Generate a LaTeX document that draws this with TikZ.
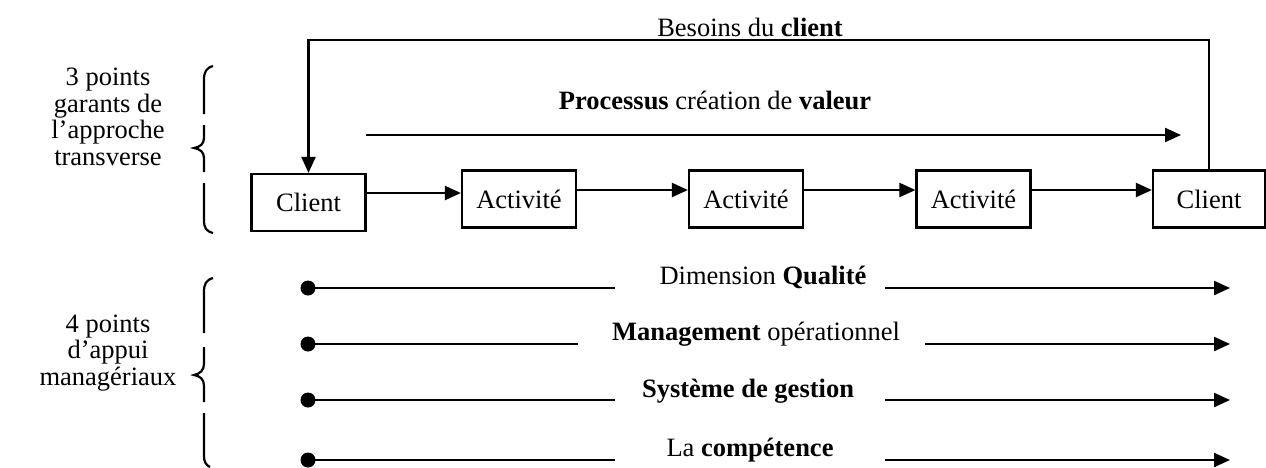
\documentclass[tikz,border=0pt]{standalone}
\usepackage{fontspec}
\setmainfont{Liberation Serif}
\usetikzlibrary{arrows.meta}
\begin{document}
\begin{tikzpicture}[x=1pt,y=-1pt,
  every node/.style={font=\fontsize{26.5}{26.5}\selectfont, inner sep=0pt},
  ln/.style={line width=2.2pt},
  arr/.style={ln,-{Triangle[length=16pt,width=14pt]}},
  boxn/.style={draw,line width=2.2pt,minimum width=114pt,minimum height=57pt},
  lbl/.style={align=center}]
\useasboundingbox (0,0) rectangle (1266,467);
% left labels
\node[lbl] (g1) at (108,117) {3 points\\garants de\\l'approche\\transverse};
\node[lbl] (g2) at (108,353) {4 points\\d'appui\\managériaux};
% braces
\draw[ln] (213,66) .. controls (206,68) and (204,72) .. (204,80) -- (204,114);
\draw[ln] (204,125) -- (204,138) .. controls (204,144) and (200,147) .. (194,148)
  .. controls (200,149) and (204,152) .. (204,158) -- (204,172);
\draw[ln] (204,183) -- (204,220) .. controls (204,228) and (206,231) .. (213,233);
\draw[ln] (213,278) .. controls (206,280) and (204,284) .. (204,292) -- (204,333);
\draw[ln] (204,347) -- (204,364) .. controls (204,370) and (200,374) .. (194,375)
  .. controls (200,376) and (204,379) .. (204,386) -- (204,402);
\draw[ln] (204,413) -- (204,456) .. controls (204,462) and (206,465) .. (210,467);
% boxes
\node[boxn] (c1) at (308.5,202.5) {Client};
\node[boxn] (a1) at (519,199) {Activité};
\node[boxn] (a2) at (746,199) {Activité};
\node[boxn] (a3) at (973.5,199) {Activité};
\node[boxn,minimum width=112pt] (c2) at (1209,199) {Client};
\draw[arr] ([yshift=9.5pt]c1.east) -- ([yshift=6pt]a1.west);
\draw[arr] ([yshift=9pt]a1.east) -- ([yshift=9pt]a2.west);
\draw[arr] ([yshift=9pt]a2.east) -- ([yshift=9pt]a3.west);
\draw[arr] ([yshift=9pt]a3.east) -- ([yshift=9pt]c2.west);
% feedback
\node (bes) at (750,27) {Besoins du \textbf{client}};
\coordinate (topy) at (0,40);
\draw[arr] (c2.north) -- (c2.north |- topy) -- (c1.north |- topy) -- (c1.north);
% process
\node (proc) at (715,100) {\textbf{Processus} création de \textbf{valeur}};
\coordinate (p0) at (366,135);
\coordinate (p1) at (1181,135);
\draw[arr] (p0) -- (p1);
% rows
\node (t1) at (763,277) {Dimension \textbf{Qualité}};
\node (t2) at (756,334) {\textbf{Management} opérationnel};
\node (t3) at (748,391) {\textbf{Système de gestion}};
\node (t4) at (750,450) {La \textbf{compétence}};
\foreach \i/\y/\l/\r in {1/288/615/885, 2/344/578/925, 3/400/615/885, 4/460/615/885}{
  \coordinate (d\i) at (308,\y);
  \coordinate (l\i) at (\l,\y);
  \coordinate (r\i) at (\r,\y);
  \coordinate (e\i) at (1230,\y);
  \fill (d\i) circle (7.5pt);
  \draw[ln] (d\i) -- (l\i);
  \draw[arr] (r\i) -- (e\i);
}
\end{tikzpicture}
\end{document}
